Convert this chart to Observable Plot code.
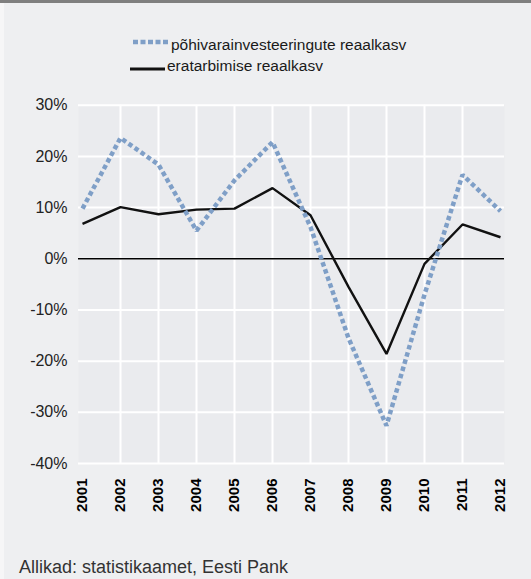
<!DOCTYPE html>
<html>
<head>
<meta charset="utf-8">
<script src="https://cdn.jsdelivr.net/npm/d3@7"></script>
<script src="https://cdn.jsdelivr.net/npm/@observablehq/plot@0.6"></script>
<style>
  html, body { margin: 0; padding: 0; background: #ffffff; }
  body { width: 531px; height: 579px; position: relative; overflow: hidden; font-family: "Liberation Sans", Arial, Helvetica, sans-serif; }
  #bg { position: absolute; left: 0; top: 0; width: 531px; height: 579px; background: #eeeff1; }
  #topbar { position: absolute; left: 0; top: 0; width: 531px; height: 3px; background: #7f7f7f; }
  #leftstrip { position: absolute; left: 0; top: 3px; width: 4px; height: 576px; background: #f6f6f7; }
  #chart { position: absolute; left: 0; top: 0; }
  .leg { position: absolute; font-size: 15.5px; line-height: 15.5px; color: #1a1a1a; white-space: nowrap; }
  .sw { position: absolute; }
  #caption { position: absolute; left: 19px; top: 558px; font-size: 18px; line-height: 18px; color: #333; white-space: nowrap; }
</style>
</head>
<body>
<div id="bg"></div>
<div id="topbar"></div>
<div id="leftstrip"></div>
<div id="chart"></div>
<svg class="sw" style="left:133px;top:37px" width="36" height="10"><line x1="0" x2="35" y1="5" y2="5" stroke="#7f9fc7" stroke-width="4.5" stroke-dasharray="5,2.5"/></svg>
<div class="leg" style="left:171px;top:37px">põhivarainvesteeringute reaalkasv</div>
<svg class="sw" style="left:130px;top:64px" width="36" height="10"><line x1="0" x2="35" y1="5" y2="5" stroke="#111" stroke-width="2.8"/></svg>
<div class="leg" style="left:167px;top:58px">eratarbimise reaalkasv</div>
<div id="caption">Allikad: statistikaamet, Eesti Pank</div>
<script>
const years = [2001, 2002, 2003, 2004, 2005, 2006, 2007, 2008, 2009, 2010, 2011, 2012];
const investGrowth = [9.8, 23.6, 18.4, 5.5, 15.3, 22.8, 6.2, -15.5, -32.6, -7.0, 16.4, 9.3];
const consumptionGrowth = [6.8, 10.1, 8.7, 9.6, 9.8, 13.8, 8.5, -5.5, -18.6, -1.0, 6.7, 4.2];
const yTicks = [-40, -30, -20, -10, 0, 10, 20, 30];
const gridYears = [2002, 2003, 2004, 2005, 2006, 2007, 2008, 2009, 2010, 2011];

const invest = years.map((y, i) => ({year: y, value: investGrowth[i]}));
const consumption = years.map((y, i) => ({year: y, value: consumptionGrowth[i]}));

const chart = Plot.plot({
  width: 531,
  height: 530,
  marginLeft: 78,
  marginRight: 27,
  marginTop: 104.7,
  marginBottom: 67,
  style: {background: "transparent", fontFamily: "'Liberation Sans', Arial, Helvetica, sans-serif"},
  x: {type: "point", domain: years, padding: 0},
  y: {domain: [-40, 30]},
  marks: [
    Plot.frame({fill: "#eaebee", stroke: null}),
    Plot.gridY(yTicks, {stroke: "#ffffff", strokeOpacity: 1, strokeWidth: 2}),
    Plot.gridX(gridYears, {stroke: "#ffffff", strokeOpacity: 1, strokeWidth: 2}),
    Plot.axisY(yTicks, {tickSize: 0, tickPadding: 11, tickFormat: d => d + "%", fontSize: 16, fill: "#222", label: null}),
    Plot.axisX(years, {tickSize: 0, tickPadding: 15, tickRotate: -90, fontSize: 15, fontWeight: "bold", fill: "#000", label: null, tickFormat: d => String(d)}),
    Plot.ruleY([0], {stroke: "#000", strokeWidth: 1.5}),
    Plot.line(consumption, {x: "year", y: "value", stroke: "#111", strokeWidth: 2.4, strokeLinejoin: "miter", strokeLinecap: "butt"}),
    Plot.line(invest, {x: "year", y: "value", stroke: "#7f9fc7", strokeWidth: 4.5, strokeDasharray: "4.5,3", strokeLinejoin: "miter", strokeLinecap: "butt"})
  ]
});
document.getElementById("chart").appendChild(chart);
</script>
</body>
</html>
